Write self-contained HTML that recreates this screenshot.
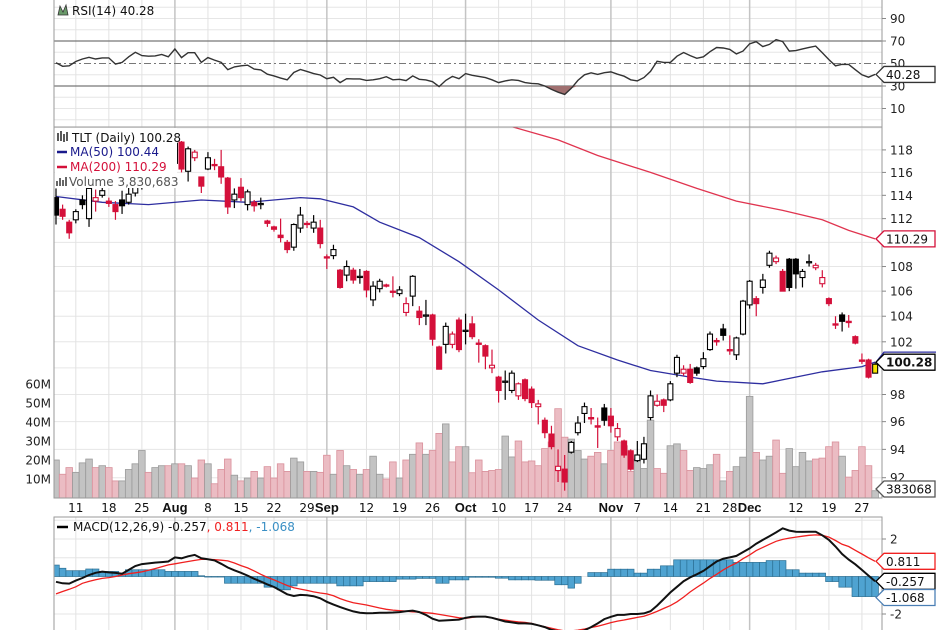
<!DOCTYPE html>
<html><head><meta charset="utf-8">
<style>
html,body{margin:0;padding:0;background:#fff;}
svg{display:block;font-family:"DejaVu Sans","Liberation Sans",sans-serif;}
</style></head>
<body>
<svg id="chart" width="936" height="630" viewBox="0 0 936 630" xmlns="http://www.w3.org/2000/svg">
<defs>
<clipPath id="cpPrice"><rect x="54" y="127" width="828" height="371"/></clipPath>
<clipPath id="cpMacd"><rect x="54" y="517" width="828" height="113"/></clipPath>
<clipPath id="cpRsi"><rect x="54" y="0" width="828" height="127"/></clipPath>
</defs>
<g id="grid"></g>
<g id="vol" clip-path="url(#cpPrice)"></g>
<g id="price" clip-path="url(#cpPrice)"></g>
<g id="rsi" clip-path="url(#cpRsi)"></g>
<g id="macd" clip-path="url(#cpMacd)"></g>
<g id="axes"></g>
<g id="legend"></g>
</svg>
<script>
// ---------- data ----------
const opens=[113.8,112.8,111.7,111.9,113.6,112,113.5,114,113.5,113.2,113.6,113.4,114.2,114.8,115.3,115,116,117.3,116.8,118.7,116.1,117.3,115.6,116.3,116.7,116.5,115.5,113.6,114.7,113.2,113.4,113.2,111.8,111.3,110.6,110,109.6,111.2,111.6,111.2,111.2,108.8,108.9,107.7,107.3,107.7,107.2,107.6,105.3,106.2,106.5,106,105.8,104.3,105.6,104.4,104.1,104.1,101.6,101.8,101.8,103.7,102.9,103.4,101.9,101.7,100,99.3,99,98.3,97.9,99.1,98.4,97.1,96.1,95.1,92.5,92.6,93.8,95.2,96.6,96.3,95.7,97,96.4,94.9,94.6,93.9,93.2,93.3,96.3,97.2,97.6,97.6,99.6,99.6,99.9,100,100.1,101.4,102.1,103,101.4,101,102.6,104.9,105.4,106.3,108.1,108.4,107.6,108.6,108.6,107.1,108.4,107.9,106.6,105.4,103.4,104.1,103.6,102.4,100.6,100.6,99.6];
const closes=[112.3,112.2,110.8,112.6,113.2,114.6,113.8,114.4,113.3,112.6,113.1,114.1,114.8,115.3,115,116,116.6,116.4,118.6,116.3,118.1,117.8,114.8,117.3,116.6,115.6,113,114.1,113.8,114.3,113.1,113.3,111.6,111.1,110.4,109.4,111.5,112.3,111.5,111.7,109.9,108.7,109.4,106.3,108,106.9,107.2,106.1,106.4,106.8,106.4,105.9,106.1,105,107.2,103.9,104.1,102.2,99.9,103.2,102.6,101.4,102.9,102.4,101.8,100.9,100.2,98.3,99,99.6,98.8,97.7,97.4,97.3,95.2,94.2,92.8,91.7,94.5,95.9,97.1,96.2,95.6,96.1,95.7,95.5,93.6,92.6,93.6,94.4,97.9,97.5,97.2,98.8,100.8,99.9,98.9,99.6,100.7,102.6,102,102.5,101.3,102.3,105.2,106.8,105,106.9,109.1,108.7,106,106.3,107.4,107.6,108.4,108.1,107.1,105,103.3,103.6,103.5,101.9,100.5,99.3,100.28];
const highs=[114.6,113.2,111.9,112.8,114,114.8,114.5,114.8,113.8,113.5,114.4,115.3,115.2,115.6,115.7,116.3,117,117.5,118.9,118.8,118.3,118,115.6,117.8,117.2,118,115.6,114.6,115.5,114.5,113.6,113.8,111.9,111.4,112,110.2,111.6,113,111.8,112.3,111.9,109,109.8,107.8,108.5,107.9,107.8,107.7,106.8,107,106.6,107.2,106.4,105.5,107.3,104.8,105.3,104.2,101.7,103.5,102.8,103.9,104.2,104,102.2,101.8,101.4,99.4,99.8,99.8,98.9,99.2,98.6,97.6,96.3,95.7,94,93.6,94.6,96.4,97.4,97,96.3,97.3,97,95.9,94.7,94,94.6,94.9,98.3,98,97.7,99,101,100.2,100.3,100.1,101.2,102.8,102.3,103.4,102.5,102.4,105.3,106.9,105.6,107.4,109.3,108.9,107.8,108.7,108.7,107.8,109,108.3,107.7,105.5,104,104.3,104.1,102.5,101.1,100.7,100.4];
const lows=[111.5,111.9,110.3,111.6,112.8,111.3,112.6,113.8,113,111.9,112.4,113.2,113.9,114.5,114.7,114.9,115.8,116.3,116.6,116,115.2,117,114.2,116.2,116.2,115,112.4,112.9,113.5,112.7,112.6,112.8,111.3,110.9,110,109.1,109.3,110.8,111.2,110.8,109.5,107.8,108.6,106.2,106.8,106.6,106.6,105.5,104.8,105.9,106.3,105.5,105.6,104,104.8,103.3,103.3,101.7,99.9,101.1,101.5,101.2,101.8,102.2,100.4,99.9,99.6,97.4,97.6,98.1,97.6,97.5,97,95.8,94.8,94,91.7,91.1,93.7,95,95.9,95.8,94.1,95.7,95.2,94.6,93.4,92.5,93.1,93,96.1,97.1,96.7,97.5,99.3,99.4,98.8,99.4,99.9,101.3,101.7,102.1,101,100.6,102.5,104.6,104,105.8,107.9,108.2,106,106,106.2,106.3,108,107.7,106.3,104.8,103,102.8,103.1,101.8,100.3,99.2,99.6];
const volumes=[20,12.5,16,13.5,18.5,20.5,16,17,16,9,9,15,18,25,13.5,16,17,17,18,18,17,10.5,20,18,7.5,15,20.5,12,9,10.5,14,10.5,16.5,10.5,18,14,21,19,14,14,13.5,22.5,12.5,25,17,15,12.5,15,22,12.5,10,19,10.5,20,23,29,23,25,34,39,19,27,27,13.3,20,14,14.5,15,32.6,21.6,30,19,19.5,17,26,29.5,47,32,31,25,20.5,22,24,18,25,29.5,27.5,14,20.5,15.5,41,15.5,13,27.5,28.5,25,14.5,16,15.5,17.5,23,9,14,16.5,21.5,53.5,24,20,22,30.5,13,26,16.5,24,19.5,20.5,21,27,29.5,22,11,14.5,27,17,3.83];
const rsiValues=[50.7,47.5,48,51.8,54,55.5,54,55,55,49.5,51,56,60,57,56.5,56.8,58,56,62.9,55.2,59.6,59.6,51,55.2,53,51,44.5,47,48,48.5,45,44.3,40.5,39,37,35.5,42,44.7,43,41,39.8,36.5,37.7,33,36.5,36.3,36.3,35,35.5,36.5,38.3,35.5,36,34.8,39,36,35.4,33.8,29.5,35,38.5,36.5,41,39.5,38.5,37.5,35.5,33,34.5,35.5,35,33,32.3,32,30,27,24.5,22.5,28,35,40,41.7,40.3,41.8,42.5,40.5,38.7,35.5,34.5,37.5,43,52,51,51,56.5,59.8,57,54.6,56,60.5,64.2,63.8,62.5,58.5,61,67.5,69.4,65,67,71.2,69.5,61,61.5,63,64.3,65.5,59.5,53.5,48,49.3,49.2,44.5,40,37.8,40.28];
const macdLine=[-0.28,-0.36,-0.38,-0.22,-0.08,0.08,0.2,0.26,0.22,0.19,0.15,0.35,0.56,0.66,0.7,0.74,0.77,0.8,1.02,0.97,1.08,1.15,0.97,0.92,0.86,0.68,0.48,0.33,0.2,0.05,-0.12,-0.27,-0.42,-0.56,-0.75,-0.95,-1.04,-0.98,-1.0,-1.05,-1.16,-1.35,-1.5,-1.63,-1.75,-1.86,-1.93,-1.96,-1.95,-1.93,-1.93,-1.92,-1.9,-1.85,-1.82,-1.9,-2.05,-2.25,-2.36,-2.34,-2.32,-2.3,-2.2,-2.15,-2.14,-2.14,-2.2,-2.3,-2.4,-2.45,-2.5,-2.5,-2.52,-2.6,-2.7,-2.85,-2.92,-3.05,-3.05,-2.95,-2.87,-2.7,-2.5,-2.27,-2.15,-2.05,-2.05,-2.0,-2.0,-1.97,-1.85,-1.55,-1.2,-0.85,-0.55,-0.25,-0.05,0.12,0.3,0.55,0.8,0.95,1.02,1.1,1.3,1.5,1.75,1.95,2.15,2.35,2.57,2.45,2.39,2.38,2.39,2.39,2.2,1.95,1.6,1.2,0.9,0.65,0.35,0.05,-0.257];
const signalLine=[-0.93,-0.8,-0.68,-0.55,-0.36,-0.26,-0.17,-0.1,-0.06,0.0,0.08,0.15,0.2,0.25,0.33,0.42,0.52,0.62,0.68,0.74,0.8,0.86,0.91,0.92,0.9,0.87,0.83,0.72,0.58,0.46,0.3,0.12,-0.05,-0.18,-0.33,-0.48,-0.6,-0.67,-0.74,-0.82,-0.88,-0.93,-1.03,-1.18,-1.3,-1.4,-1.46,-1.52,-1.6,-1.68,-1.75,-1.79,-1.82,-1.85,-1.88,-1.9,-1.93,-1.96,-2.02,-2.08,-2.14,-2.2,-2.23,-2.18,-2.14,-2.15,-2.2,-2.28,-2.33,-2.38,-2.42,-2.45,-2.5,-2.6,-2.68,-2.76,-2.84,-2.9,-2.9,-2.86,-2.8,-2.72,-2.65,-2.56,-2.46,-2.38,-2.32,-2.25,-2.18,-2.12,-2.0,-1.86,-1.7,-1.55,-1.35,-1.1,-0.82,-0.58,-0.35,-0.1,0.12,0.35,0.55,0.72,0.95,1.15,1.38,1.55,1.72,1.88,1.98,2.05,2.1,2.15,2.2,2.22,2.2,2.1,1.92,1.72,1.6,1.4,1.2,1.0,0.811];
const histValues=[0.61,0.44,0.31,0.31,0.31,0.4,0.4,0.27,0.27,0.27,0.18,0.36,0.36,0.36,0.36,0.36,0.36,0.27,0.27,0.27,0.27,0.27,0.04,-0.03,-0.03,-0.03,-0.36,-0.36,-0.36,-0.36,-0.36,-0.36,-0.57,-0.57,-0.71,-0.71,-0.5,-0.36,-0.36,-0.36,-0.36,-0.36,-0.36,-0.5,-0.5,-0.5,-0.5,-0.27,-0.27,-0.27,-0.27,-0.27,-0.14,-0.14,-0.14,-0.1,-0.1,-0.1,-0.36,-0.36,-0.18,-0.18,-0.18,-0.04,-0.04,-0.04,-0.04,-0.09,-0.09,-0.18,-0.18,-0.18,-0.18,-0.2,-0.2,-0.2,-0.44,-0.44,-0.62,-0.36,0,0.21,0.21,0.21,0.39,0.39,0.39,0.39,0.18,0.18,0.39,0.39,0.57,0.57,0.89,0.89,0.89,0.89,0.89,0.89,0.89,0.89,0.89,0.75,0.75,0.75,0.75,0.75,0.85,0.85,0.85,0.36,0.36,0.18,0.18,0.18,0.18,-0.27,-0.27,-0.57,-0.57,-1.07,-1.07,-1.07,-1.068];
const ma50Days=[0,7,14,22,29,37,40,45,49,55,61,67,73,79,85,90,96,100,107,110,116,122,124];
const ma50Values=[113.9,113.4,113.2,113.6,113.4,113.8,113.7,113,111.7,110.4,108.4,106.1,103.7,101.7,100.6,99.8,99.3,99,98.8,99.1,99.7,100.1,100.44];
const ma200Days=[66,69,76,82,90,97,103,110,116,120,124];
const ma200Values=[121.5,120.1,118.9,117.5,116,114.6,113.5,112.7,111.9,111,110.29];
const dateTickDays=[3,8,13,18,23,28,33,38,41,47,52,57,62,67,72,77,84,88,93,98,102,105,112,117,122];
const dateTickLabels=["11","18","25","Aug","8","15","22","29","Sep","12","19","26","Oct","10","17","24","Nov","7","14","21","28","Dec","12","19","27"];
const monthTickFlags=[0,0,0,1,0,0,0,0,1,0,0,0,1,0,0,0,1,0,0,0,0,1,0,0,0];
const priceTicks=[92,94,96,98,102,104,106,108,112,114,116,118];
const priceGrid=[92,94,96,98,100,102,104,106,108,110,112,114,116,118,120];
const rsiTicks=[90,70,50,30,10];
const volTicks=[10,20,30,40,50,60];
const macdTicks=[2,-2];

// ---------- scales ----------
const NS="http://www.w3.org/2000/svg";
const X0=56, DX=6.606, LEFT=54, RIGHT=882;
const xs=i=>X0+DX*i;
const py=p=>477.7-1317*Math.log(p/92);
const vy=v=>498-v*1.9;
const ry=v=>41+(70-v)*1.125;
const my=v=>576.5-v*18.75;
function el(tag,attrs,parent){const e=document.createElementNS(NS,tag);for(const k in attrs)e.setAttribute(k,attrs[k]);parent.appendChild(e);return e;}
function txt(s,attrs,parent){const e=el('text',attrs,parent);e.textContent=s;return e;}
const G=id=>document.getElementById(id);
const grid=G('grid'),volG=G('vol'),priceG=G('price'),rsiG=G('rsi'),macdG=G('macd'),axes=G('axes'),leg=G('legend');

// ---------- grid ----------
function hline(y,x1,x2,c,w,parent,dash){const l=el('line',{x1:x1,x2:x2,y1:y,y2:y,stroke:c,'stroke-width':w},parent);if(dash)l.setAttribute('stroke-dasharray',dash);return l;}
for(let v=0;v<=100;v+=10){if(v==70||v==30||v==50)continue;const l=hline(ry(v),LEFT,RIGHT,'#e6e6e6',1,grid);}
for(const p of priceGrid){const l=hline(py(p),LEFT,RIGHT,'#e6e6e6',1,grid);}
for(let v=-3;v<=3;v++){const l=hline(my(v),LEFT,RIGHT,'#e6e6e6',1,grid);}
dateTickDays.forEach((d,k)=>{
  const x=xs(d), c=monthTickFlags[k]?'#c4c4c4':'#e2e2e2';
  for(const [a,b] of [[0,127],[127,498],[517,630]]){
    const l=el('line',{x1:x,x2:x,y1:a,y2:b,stroke:c,'stroke-width':monthTickFlags[k]?1.5:1},grid);
    
  }
});
let l1=hline(ry(70),LEFT,RIGHT,'#777',1.2,rsiG);
let l2=hline(ry(30),LEFT,RIGHT,'#777',1.2,rsiG);
let l3=hline(ry(50),LEFT,RIGHT,'#777',1,rsiG,'7,3,2,3');

// ---------- volume ----------
const n=Math.min(opens.length,closes.length,highs.length,lows.length);
for(let i=0;i<volumes.length;i++){
  const up = i===0 || (closes[i]!==undefined && closes[i]>=closes[i-1]);
  const y=vy(volumes[i]);
  const r=el('rect',{x:xs(i)-3.3,y:y,width:6.6,height:498-y,fill:up?'#c3c3c3':'#ebbcc3',stroke:up?'#9a9a9a':'#d9909b','stroke-width':0.8},volG);
  
}

// ---------- moving averages ----------
function seriesPath(days,vals,yf){return days.map((d,k)=>(k?'L':'M')+xs(d).toFixed(1)+','+yf(vals[k]).toFixed(1)).join('');}
const ma200=el('path',{d:seriesPath(ma200Days,ma200Values,py),fill:'none',stroke:'#e0344f','stroke-width':1.3},priceG);

const ma50=el('path',{d:seriesPath(ma50Days,ma50Values,py),fill:'none',stroke:'#2e2ea0','stroke-width':1.3},priceG);


// ---------- candles ----------
for(let i=0;i<n;i++){
  const up = i===0 || closes[i]>=closes[i-1];
  const col = up?'#000':'#d4103a';
  const filled = closes[i]<opens[i];
  const x=xs(i);
  const g=el('g',{},priceG);
  
  el('line',{x1:x,x2:x,y1:py(highs[i]),y2:py(lows[i]),stroke:col,'stroke-width':1.2},g);
  const yt=py(Math.max(opens[i],closes[i])), yb=py(Math.min(opens[i],closes[i]));
  const h=Math.max(yb-yt,1.2);
  el('rect',{x:x-2.5,y:yt,width:5,height:h,fill:filled?col:(i===n-1?'#f5e400':'#fff'),stroke:col,'stroke-width':1.1},g);
}

// ---------- rsi ----------
const rsiPts=rsiValues.map((v,i)=>xs(i).toFixed(1)+','+ry(v).toFixed(1));
let fillPts=[];
rsiValues.forEach((v,i)=>{if(v<30)fillPts.push(i);});
if(fillPts.length){
  const a=fillPts[0]-1,b=fillPts[fillPts.length-1]+1;
  let d='M'+xs(a)+','+ry(30);
  for(let i=a+1;i<b;i++)d+='L'+xs(i)+','+ry(Math.min(30,rsiValues[i]));
  d+='L'+xs(b)+','+ry(30)+'Z';
  const f=el('path',{d:d,fill:'#a07070',stroke:'none'},rsiG);
  
}
const rl=el('polyline',{points:rsiPts.join(' '),fill:'none',stroke:'#333','stroke-width':1.4},rsiG);


// ---------- macd ----------
histValues.forEach((v,i)=>{
  const y0=my(0),y1=my(v);
  const r=el('rect',{x:xs(i)-3.3,y:Math.min(y0,y1),width:6.6,height:Math.abs(y1-y0),fill:'#4fa3d1',stroke:'#2b6f93','stroke-width':0.7},macdG);
  
});
const sp=el('polyline',{points:signalLine.map((v,i)=>xs(i).toFixed(1)+','+my(v).toFixed(1)).join(' '),fill:'none',stroke:'#f02020','stroke-width':1.3},macdG);

const mp=el('polyline',{points:macdLine.map((v,i)=>xs(i).toFixed(1)+','+my(v).toFixed(1)).join(' '),fill:'none',stroke:'#111','stroke-width':2},macdG);


// ---------- frames / axes ----------
function frame(y1,y2,name){const r=el('rect',{x:LEFT,y:y1,width:RIGHT-LEFT,height:y2-y1,fill:'none',stroke:'#9a9a9a','stroke-width':1},axes);}
frame(-1,127,'rsi-frame');frame(127,498,'price-frame');frame(517,631,'macd-frame');
function rlabel(s,y,name){const t=txt(s,{x:890,y:y+4.5,'font-size':12,fill:'#222'},axes);
  el('line',{x1:RIGHT,x2:RIGHT+4,y1:y,y2:y,stroke:'#888'},axes);}
rsiTicks.forEach(v=>rlabel(String(v),ry(v),'rsi-tick-label'));
priceTicks.forEach(p=>rlabel(String(p),py(p),'price-tick-label'));
macdTicks.forEach(v=>rlabel(String(v),my(v),'macd-tick-label'));
volTicks.forEach(v=>{const t=txt(v+'M',{x:51,y:vy(v)+4.5,'font-size':12,'text-anchor':'end',fill:'#222'},axes);});
dateTickDays.forEach((d,k)=>{
  const t=txt(dateTickLabels[k],{x:xs(d),y:512,'font-size':monthTickFlags[k]?13:12,'font-weight':monthTickFlags[k]?'bold':'normal','text-anchor':'middle',fill:'#111'},axes);
  if(monthTickFlags[k])t.setAttribute('font-family','"Liberation Sans",sans-serif');
  
});
function tag(s,y,color,name,bold){
  const g=el('g',{},axes);
  el('path',{d:`M876,${y} L884,${y-8} L935,${y-8} L935,${y+8} L884,${y+8} Z`,fill:'#fff',stroke:color,'stroke-width':1.3},g);
  txt(s,{x:886,y:y+4.5,'font-size':12,'font-weight':bold?'bold':'normal',fill:'#111'},g);
}
tag('40.28',ry(40.28),'#333','rsi-value-tag');
el('path',{d:`M876,${py(100.44)} L884,${py(100.44)-10} L936,${py(100.44)-10}`,fill:'none',stroke:'#2e2ea0','stroke-width':1.3},axes);
tag('110.29',py(110.29),'#d4103a','ma200-value-tag');
tag('100.28',py(100.28)-2,'#000','price-value-tag',true);
tag('383068',489,'#555','volume-value-tag');
tag('0.811',my(0.811),'#f02020','macd-signal-tag');
tag('-0.257',my(-0.257),'#000','macd-value-tag');
tag('-1.068',my(-1.068)+1,'#4b7fb5','macd-hist-tag');

// ---------- legends ----------
const lb=el('rect',{x:55,y:128,width:122,height:60,fill:'#fff'},leg);
function ltxt(s,x,y,c,name){const t=txt(s,{x:x,y:y,'font-size':12,fill:c},leg);return t;}
el('path',{d:'M58,15 L60,6 L63,12 L66,5 L68,15 Z',fill:'#6a9a6a',stroke:'#333','stroke-width':0.8},leg);
ltxt('RSI(14) 40.28',72,15,'#111','rsi-legend');
el('path',{d:'M58,133 v8 M61,131 v10 M64,134 v8 M67,132 v9',stroke:'#222','stroke-width':1.5},leg);
ltxt('TLT (Daily) 100.28',72,142,'#111','price-legend');
el('line',{x1:57,x2:67,y1:152,y2:152,stroke:'#1a1a8c','stroke-width':2.5},leg);
ltxt('MA(50) 100.44',70,156,'#1a1a8c','ma50-legend');
el('line',{x1:57,x2:67,y1:167,y2:167,stroke:'#d4103a','stroke-width':2.5},leg);
ltxt('MA(200) 110.29',70,171,'#d4103a','ma200-legend');
el('path',{d:'M57,186 v-5 M60,186 v-8 M63,186 v-6 M66,186 v-9',stroke:'#666','stroke-width':2},leg);
ltxt('Volume 3,830,683',69,186,'#555','volume-legend');
el('line',{x1:57,x2:68,y1:527,y2:527,stroke:'#000','stroke-width':2.5},leg);
const mt=txt('',{x:73,y:531,'font-size':12},leg);
[['MACD(12,26,9) -0.257','#111'],[', 0.811','#f02020'],[', -1.068','#3a8fc4']].forEach(([s,c])=>{const ts=el('tspan',{fill:c},mt);ts.textContent=s;});
</script>
</body></html>
